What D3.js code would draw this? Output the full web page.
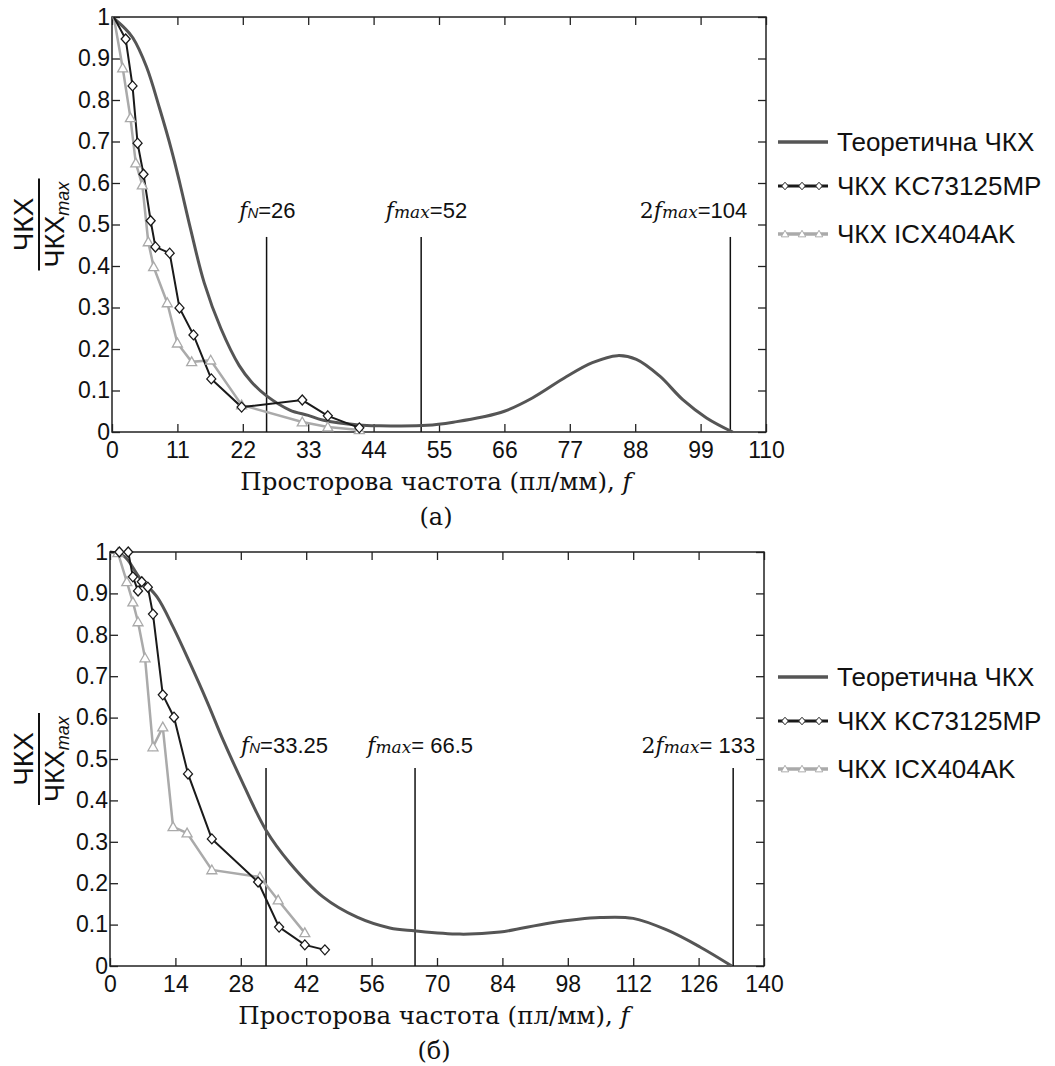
<!DOCTYPE html>
<html>
<head>
<meta charset="utf-8">
<script src="https://cdn.jsdelivr.net/npm/d3@7"></script>
<style>
  body { margin: 0; background: #fff; }
  svg { display: block; }
</style>
</head>
<body>
<div id="chart"></div>
<script>
// ---- data ----
const yTicks = [0, 0.1, 0.2, 0.3, 0.4, 0.5, 0.6, 0.7, 0.8, 0.9, 1];
const legendLabels = ["Теоретична ЧКХ", "ЧКХ KC73125MP", "ЧКХ ICX404AK"];

// panel (a)
const xTicksA = [0, 11, 22, 33, 44, 55, 66, 77, 88, 99, 110];
const theoryA = [[0,1],[2,0.975],[3.5,0.95],[5.8,0.88],[8,0.78],[10,0.68],[11.4,0.6],[13.2,0.49],[15.5,0.36],
  [18.3,0.25],[21.4,0.16],[23.5,0.12],[26,0.087],[29.9,0.053],[33,0.04],[35.4,0.029],[41.5,0.017],[45,0.015],
  [53,0.016],[58,0.025],[62.3,0.036],[66,0.05],[70.7,0.082],[76.4,0.133],[80.8,0.167],[85,0.184],[88.2,0.175],
  [92.1,0.135],[96,0.078],[100,0.034],[104.4,0]];
const kcA = [[0.3,1],[2.3,0.947],[3.45,0.834],[4.3,0.696],[5.3,0.621],[6.5,0.509],[7.3,0.446],[9.7,0.431],
  [11.35,0.299],[13.7,0.234],[16.7,0.128],[21.8,0.06],[32,0.077],[36.3,0.039],[41.6,0.01]];
const icxA = [[0.3,1],[1.8,0.877],[3.1,0.757],[4,0.648],[5.1,0.595],[6.1,0.458],[7,0.398],[9.3,0.311],
  [11,0.214],[13.4,0.169],[16.6,0.173],[21.8,0.065],[32,0.024],[36.3,0.012],[41.6,0.005]];
const markLinesA = [26, 52, 104];
const markTopA = 0.47;
const markLabelsA = [["", "N", "=26"], ["", "max", "=52"], ["2", "max", "=104"]];

// panel (б)
const xTicksB = [0, 14, 28, 42, 56, 70, 84, 98, 112, 126, 140];
const theoryB = [[0,1],[3,0.99],[6.4,0.937],[10.1,0.891],[13.5,0.819],[17.1,0.732],[20.8,0.638],[24.2,0.546],
  [27.8,0.457],[33.4,0.328],[38.5,0.249],[45.6,0.167],[52.9,0.118],[59.9,0.092],[65.1,0.085],[74.9,0.077],
  [83.5,0.082],[94.2,0.104],[104.9,0.117],[112,0.115],[119.2,0.087],[126.3,0.046],[133.1,0]];
const kcB = [[0,1],[2,1],[3.9,1],[4.9,0.94],[6,0.906],[6.8,0.928],[8.1,0.915],[9.2,0.85],[11.3,0.655],
  [13.7,0.601],[16.7,0.464],[21.8,0.307],[31.7,0.203],[36.2,0.094],[41.7,0.051],[46,0.039]];
const icxB = [[0,1],[1.7,0.998],[3.6,0.928],[4.9,0.879],[6,0.831],[7.5,0.744],[9.2,0.529],[11.3,0.577],
  [13.5,0.336],[16.5,0.321],[21.8,0.232],[32.1,0.215],[36,0.159],[41.7,0.08]];
const markLinesB = [33.4, 65.3, 133.4];
const markTopB = 0.478;
const markLabelsB = [["", "N", "=33.25"], ["", "max", "= 66.5"], ["2", "max", "= 133"]];

// ---- layout ----
const width = 1055, height = 1066;
const sans = "'Liberation Sans', Arial, sans-serif";
const serif = "'DejaVu Serif', 'Liberation Serif', serif";
const colTheory = "#555", colKC = "#1a1a1a", colICX = "#aaa";

const svg = d3.select("#chart").append("svg")
  .attr("width", width).attr("height", height);

const panels = [
  { top: 17, bottom: 432, left: 112, right: 766, xMax: 110, xTicks: xTicksA,
    theory: theoryA, kc: kcA, icx: icxA, lines: markLinesA, lineTop: markTopA,
    labels: markLabelsA, labelEnd: [29, 46, 17], caption: "(а)" },
  { top: 552, bottom: 966, left: 110, right: 764, xMax: 140, xTicks: xTicksB,
    theory: theoryB, kc: kcB, icx: icxB, lines: markLinesB, lineTop: markTopB,
    labels: markLabelsB, labelEnd: [62, 58, 22], caption: "(б)" }
];

const diamond = "M0,-5L4.5,0L0,5L-4.5,0Z";
const triangle = "M0,-5L5,3.8L-5,3.8Z";

panels.forEach(p => {
  const x = d3.scaleLinear().domain([0, p.xMax]).range([p.left, p.right]);
  const y = d3.scaleLinear().domain([0, 1]).range([p.bottom, p.top]);
  const g = svg.append("g");

  // axes, ticks pointing inward
  g.append("g").attr("transform", `translate(0,${p.bottom})`)
    .call(d3.axisBottom(x).tickValues(p.xTicks).tickSize(-8).tickPadding(10).tickFormat(d => d));
  const leftAx = g.append("g").attr("transform", `translate(${p.left},0)`)
    .call(d3.axisLeft(y).tickValues(yTicks).tickSize(-8).tickPadding(4).tickFormat(d => d));
  g.append("g").attr("transform", `translate(0,${p.top})`)
    .call(d3.axisTop(x).tickValues(p.xTicks).tickSize(-8).tickFormat(""));
  g.append("g").attr("transform", `translate(${p.right},0)`)
    .call(d3.axisRight(y).tickValues(yTicks).tickSize(-8).tickFormat(""));
  g.selectAll(".domain").remove();
  g.selectAll(".tick line").attr("stroke", "#222").attr("stroke-width", 1.3);
  g.selectAll(".tick text").attr("font-family", sans).attr("font-size", 23).attr("fill", "#111");
  leftAx.selectAll(".tick text").attr("dx", "2");

  g.append("rect")
    .attr("x", p.left).attr("y", p.top)
    .attr("width", p.right - p.left).attr("height", p.bottom - p.top)
    .attr("fill", "none").attr("stroke", "#222").attr("stroke-width", 1.5);

  // vertical markers
  p.lines.forEach((v, i) => {
    g.append("line")
      .attr("x1", x(v)).attr("x2", x(v))
      .attr("y1", p.bottom).attr("y2", y(p.lineTop))
      .attr("stroke", "#111").attr("stroke-width", 1.5);
    const lab = p.labels[i];
    const t = g.append("text")
      .attr("x", x(v) + p.labelEnd[i]).attr("y", y(0.515))
      .attr("text-anchor", "end").attr("font-size", 22).attr("fill", "#111");
    if (lab[0]) t.append("tspan").attr("font-family", serif).text(lab[0]);
    t.append("tspan").attr("font-family", serif).attr("font-style", "italic").text("f");
    t.append("tspan").attr("font-family", lab[1] === "N" ? sans : serif)
      .attr("font-style", "italic").attr("font-size", lab[1] === "N" ? 15 : 17).text(lab[1]);
    t.append("tspan").attr("font-family", sans).text(lab[2]);
  });

  const line = d3.line().x(d => x(d[0])).y(d => y(d[1]));

  g.append("path").datum(p.theory)
    .attr("d", line.curve(d3.curveCatmullRom.alpha(0.5)))
    .attr("fill", "none").attr("stroke", colTheory).attr("stroke-width", 3);

  line.curve(d3.curveLinear);
  g.append("path").datum(p.icx)
    .attr("d", line).attr("fill", "none").attr("stroke", colICX).attr("stroke-width", 2.5);
  g.append("path").datum(p.kc)
    .attr("d", line).attr("fill", "none").attr("stroke", colKC).attr("stroke-width", 2);

  g.selectAll(".tri").data(p.icx.slice(1)).enter().append("path")
    .attr("d", triangle)
    .attr("transform", d => `translate(${x(d[0])},${y(d[1])})`)
    .attr("fill", "#fff").attr("stroke", colICX).attr("stroke-width", 1.3);
  g.selectAll(".dia").data(p.kc.slice(1)).enter().append("path")
    .attr("d", diamond)
    .attr("transform", d => `translate(${x(d[0])},${y(d[1])})`)
    .attr("fill", "#fff").attr("stroke", colKC).attr("stroke-width", 1.3);

  // y label as a fraction
  const cy = (p.top + p.bottom) / 2;
  g.append("text")
    .attr("transform", `translate(33,${cy}) rotate(-90)`)
    .attr("text-anchor", "middle").attr("font-family", sans).attr("font-size", 28)
    .attr("fill", "#111").text("ЧКХ");
  g.append("line")
    .attr("x1", 39).attr("x2", 39).attr("y1", cy - 46).attr("y2", cy + 46)
    .attr("stroke", "#111").attr("stroke-width", 2);
  const den = g.append("text")
    .attr("transform", `translate(64,${cy}) rotate(-90)`)
    .attr("text-anchor", "middle").attr("font-family", sans).attr("font-size", 27).attr("fill", "#111");
  den.append("tspan").text("ЧКХ");
  den.append("tspan").attr("font-style", "italic").attr("font-size", 18).attr("dy", 5).text("max");

  // x title and caption
  const cx = (p.left + p.right) / 2 - 3;
  const title = g.append("text")
    .attr("x", cx).attr("y", p.bottom + 58)
    .attr("text-anchor", "middle").attr("font-family", serif).attr("font-size", 24.5).attr("fill", "#111");
  title.append("tspan").text("Просторова частота (пл/мм), ");
  title.append("tspan").attr("font-style", "italic").text("f");
  g.append("text")
    .attr("x", cx).attr("y", p.bottom + 93)
    .attr("text-anchor", "middle").attr("font-family", serif).attr("font-size", 24).attr("fill", "#111")
    .text(p.caption);

  // legend
  const rows = [125, 169, 217];
  const styles = [
    { stroke: colTheory, w: 3.5, mark: null },
    { stroke: colKC, w: 3, mark: diamond },
    { stroke: colICX, w: 3.5, mark: triangle }
  ];
  legendLabels.forEach((name, i) => {
    const ry = p.top + rows[i];
    const s = styles[i];
    g.append("line")
      .attr("x1", 778).attr("x2", 828).attr("y1", ry).attr("y2", ry)
      .attr("stroke", s.stroke).attr("stroke-width", s.w);
    if (s.mark) {
      [785, 802, 819].forEach(mx => {
        g.append("path").attr("d", s.mark)
          .attr("transform", `translate(${mx},${ry}) scale(0.75)`)
          .attr("fill", "#fff").attr("stroke", s.stroke).attr("stroke-width", 1.3);
      });
    }
    g.append("text")
      .attr("x", 837).attr("y", ry + 9)
      .attr("font-family", sans).attr("font-size", 26).attr("fill", "#111")
      .text(name);
  });
});
</script>
</body>
</html>
